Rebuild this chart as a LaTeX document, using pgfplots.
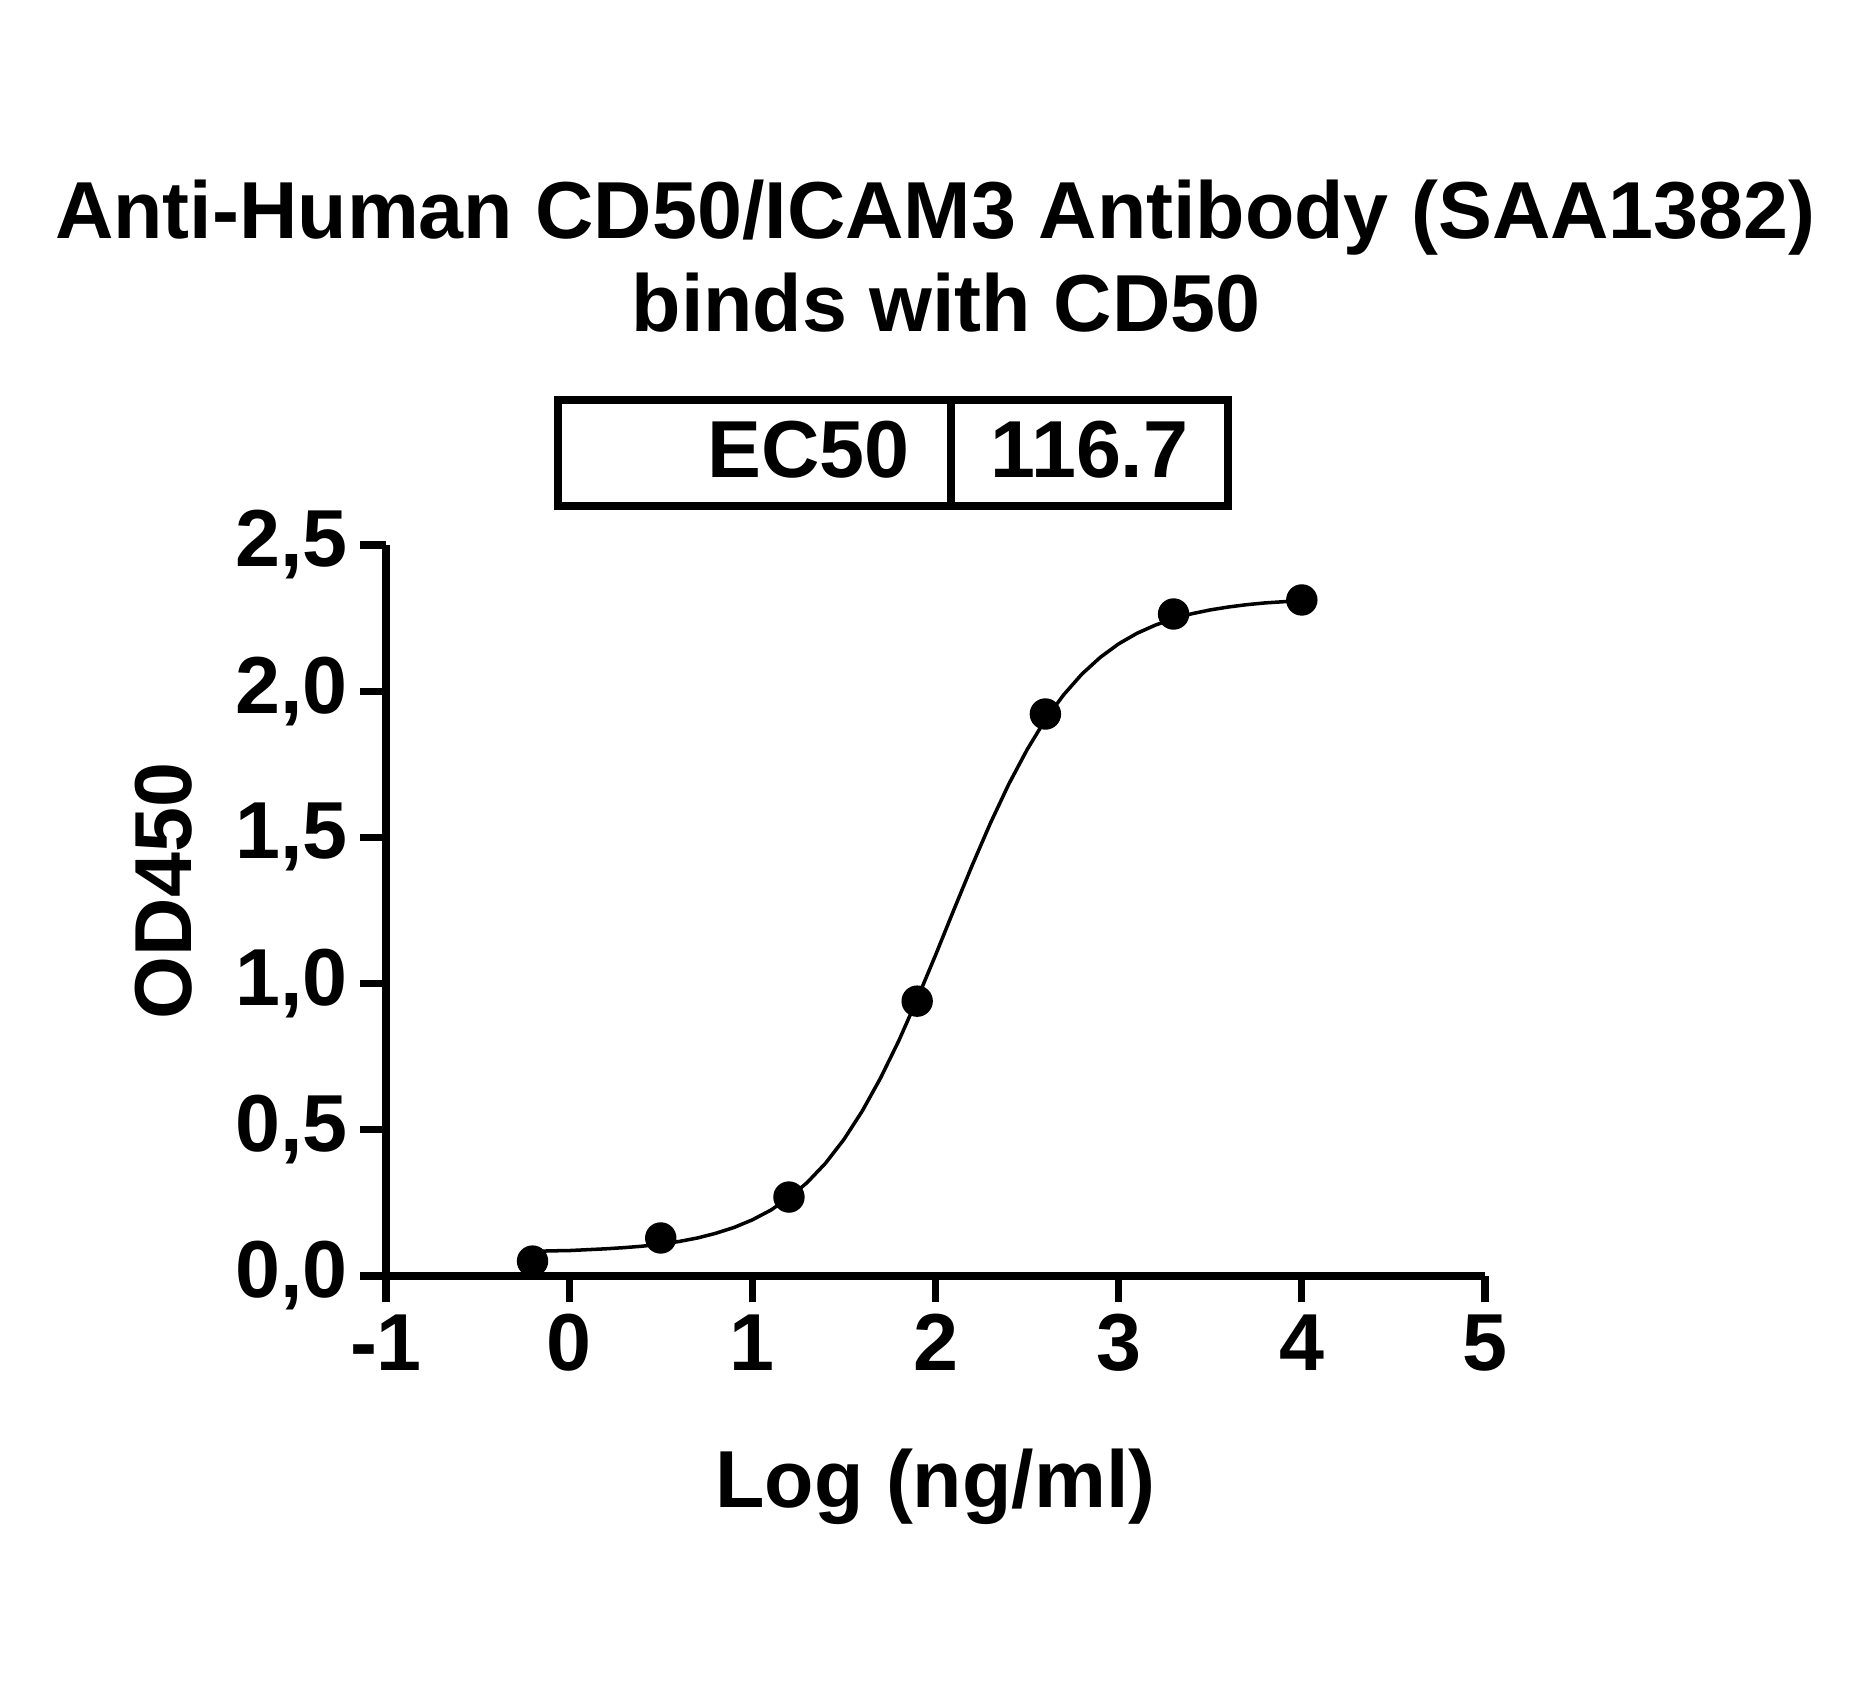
\documentclass[border=0pt]{standalone}
\usepackage{fontspec}
\setmainfont{Liberation Sans}
\usepackage{pgfplots}
\pgfplotsset{compat=1.18}

\begin{document}
\begin{tikzpicture}[font=\fontsize{23}{27}\selectfont\bfseries]
\begin{axis}[
  scale only axis,
  width=10.99cm, height=7.31cm,
  xmin=-1, xmax=5, ymin=0, ymax=2.5,
  axis x line*=bottom, axis y line*=left,
  axis line style={-, line width=2pt},
  tick align=outside,
  major tick length=2.6mm,
  major tick style={line width=2pt, black},
  xtick={-1,0,1,2,3,4,5},
  xticklabels={-1,0,1,2,3,4,5},
  ytick={0,0.5,1,1.5,2,2.5},
  yticklabels={{0,0},{0,5},{1,0},{1,5},{2,0},{2,5}},
  clip=false,
]
% fitted 4PL curve (bottom 0.08, top 2.32, logEC50 2.067, slope 1.2)
\addplot[black, line width=1pt, line join=round] coordinates {
  (-0.2,0.084) (-0.1,0.086) (0.0,0.087) (0.1,0.090) (0.2,0.093) (0.3,0.097)
  (0.4,0.102) (0.5,0.109) (0.6,0.118) (0.7,0.130) (0.8,0.146) (0.9,0.166)
  (1.0,0.192) (1.1,0.225) (1.2,0.267) (1.3,0.320) (1.4,0.386) (1.5,0.467)
  (1.6,0.564) (1.7,0.677) (1.8,0.805) (1.9,0.947) (2.0,1.097) (2.1,1.252)
  (2.2,1.404) (2.3,1.549) (2.4,1.682) (2.5,1.800) (2.6,1.903) (2.7,1.988)
  (2.8,2.059) (2.9,2.116) (3.0,2.162) (3.1,2.198) (3.2,2.226) (3.3,2.248)
  (3.4,2.265) (3.5,2.278) (3.6,2.288) (3.7,2.296) (3.8,2.302) (3.9,2.306)
  (4.0,2.309)
};
% measured points
\addplot[only marks, mark=*, mark size=1.5mm, black] coordinates {
  (-0.2,0.051) (0.5,0.130) (1.2,0.270) (1.9,0.940) (2.6,1.922) (3.3,2.264) (4.0,2.312)
};
\end{axis}
% title
\node[anchor=base] at (5.495cm,10.37cm) {Anti-Human CD50/ICAM3 Antibody (SAA1382)};
\node[anchor=base] at (5.60cm,9.44cm) {binds with CD50};
% EC50 box
\draw[line width=2pt] (1.72cm,7.70cm) rectangle (8.42cm,8.76cm);
\draw[line width=2pt] (5.65cm,7.70cm) -- (5.65cm,8.76cm);
\node[anchor=base east, inner sep=0pt] at (5.24cm,7.98cm) {EC50};
\node[anchor=base, inner sep=0pt] at (7.035cm,7.98cm) {116.7};
% axis labels
\node[anchor=base] at (5.495cm,-2.31cm) {Log (ng/ml)};
\node[anchor=base, rotate=90] at (-1.95cm,3.85cm) {OD450};
\path[use as bounding box] (-3.86cm,-4.12cm) rectangle (14.87cm,12.76cm);
\end{tikzpicture}
\end{document}
